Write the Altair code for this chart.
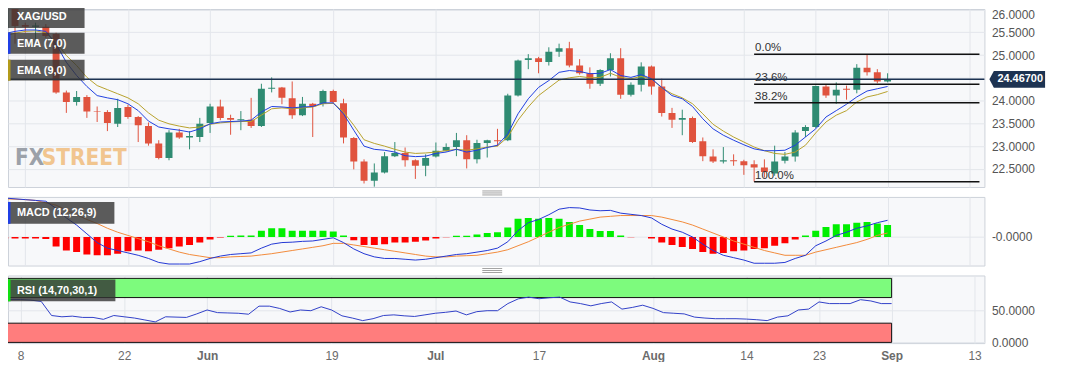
import altair as alt
import pandas as pd

# ---------------- data ----------------
# trading-day index: 0 = 8 May, 84 = 1 Sep
day_index = list(range(-2, 85))

opens = [25.60, 26.08, 25.66, 25.62, 25.62, 25.46, 24.18, 23.97, 24.08, 23.76,
         23.75, 23.49, 23.86, 23.64, 23.44, 23.06, 22.74, 23.30, 23.19, 23.20,
         23.51, 23.87, 23.62, 23.57, 23.58, 23.44, 24.26, 24.29, 24.05, 23.68,
         23.93, 23.93, 24.21, 23.94, 23.18, 22.66, 22.24, 22.42, 22.78, 22.85,
         22.69, 22.57, 22.77, 22.90, 22.98, 23.13, 22.71, 23.07, 23.13, 23.13,
         24.11, 24.89, 24.93, 24.85, 25.07, 25.15, 24.77, 24.60, 24.37, 24.67,
         24.93, 24.13, 24.35, 24.75, 24.31, 23.73, 23.58, 23.62, 23.11, 22.77,
         22.66, 22.69, 22.67, 22.60, 22.53, 22.40, 22.68, 22.77, 23.33, 23.42,
         24.31, 24.11, 24.26, 24.24, 24.72, 24.62, 24.42]
highs = [26.10, 26.15, 25.71, 25.71, 25.68, 25.49, 24.22, 24.21, 24.12, 23.87,
         23.79, 24.04, 23.91, 23.66, 23.52, 23.13, 23.35, 23.38, 23.33, 23.62,
         23.93, 24.02, 23.69, 23.77, 24.06, 24.37, 24.51, 24.30, 24.42, 24.08,
         23.95, 24.24, 24.24, 24.04, 23.20, 22.71, 22.62, 22.87, 23.09, 22.97,
         22.71, 22.82, 23.08, 23.06, 23.29, 23.24, 23.14, 23.14, 23.38, 24.15,
         24.90, 25.02, 24.96, 25.17, 25.25, 25.29, 24.91, 24.73, 24.69, 25.04,
         25.15, 24.40, 24.84, 24.77, 24.48, 23.84, 23.80, 23.65, 23.19, 22.93,
         22.98, 22.82, 22.70, 22.69, 22.71, 23.01, 22.87, 23.35, 23.46, 24.33,
         24.35, 24.40, 24.33, 24.80, 25.02, 24.69, 24.60]
lows = [25.55, 25.25, 25.49, 25.35, 25.38, 24.15, 23.73, 23.89, 23.62, 23.53,
        23.33, 23.42, 23.60, 23.09, 23.01, 22.71, 22.69, 23.16, 22.93, 23.09,
        23.29, 23.57, 23.25, 23.35, 23.40, 23.42, 24.18, 23.92, 23.60, 23.66,
        23.20, 23.87, 23.93, 23.06, 22.49, 22.18, 22.11, 22.40, 22.76, 22.55,
        22.28, 22.34, 22.75, 22.88, 22.78, 22.51, 22.62, 22.75, 23.00, 23.11,
        24.09, 24.69, 24.60, 24.77, 24.96, 24.73, 24.57, 24.26, 24.32, 24.53,
        24.04, 24.09, 24.20, 24.13, 23.65, 23.40, 23.24, 23.07, 22.67, 22.63,
        22.62, 22.57, 22.37, 22.22, 22.31, 22.35, 22.62, 22.66, 23.20, 23.40,
        24.06, 23.93, 24.02, 24.16, 24.55, 24.38, 24.40]
closes = [26.04, 25.64, 25.62, 25.65, 25.42, 24.18, 23.97, 24.08, 23.76, 23.75,
          23.51, 23.84, 23.64, 23.46, 23.06, 22.74, 23.30, 23.19, 23.22, 23.49,
          23.87, 23.62, 23.58, 23.59, 23.44, 24.26, 24.28, 24.06, 23.68, 23.93,
          23.87, 24.21, 23.97, 23.19, 22.66, 22.24, 22.42, 22.78, 22.85, 22.69,
          22.57, 22.74, 22.90, 22.98, 23.13, 22.71, 23.07, 23.13, 23.11, 24.11,
          24.88, 24.93, 24.85, 25.07, 25.15, 24.77, 24.60, 24.37, 24.67, 24.93,
          24.13, 24.35, 24.75, 24.31, 23.73, 23.58, 23.62, 23.09, 22.78, 22.66,
          22.69, 22.67, 22.58, 22.53, 22.43, 22.66, 22.77, 23.30, 23.42, 24.32,
          24.11, 24.24, 24.24, 24.72, 24.62, 24.42, 24.467]

ema7 = [25.47, 25.52, 25.55, 25.55, 25.52, 25.24, 24.84, 24.55, 24.31, 24.11,
        24.06, 24.02, 23.93, 23.78, 23.55, 23.42, 23.38, 23.35, 23.31, 23.38,
        23.49, 23.53, 23.54, 23.55, 23.57, 23.75, 23.87, 23.86, 23.84, 23.86,
        23.87, 23.95, 23.95, 23.71, 23.35, 23.00, 22.93, 22.91, 22.87, 22.79,
        22.77, 22.78, 22.84, 22.87, 22.93, 22.87, 22.91, 22.97, 23.02, 23.27,
        23.71, 24.04, 24.29, 24.44, 24.62, 24.66, 24.64, 24.59, 24.60, 24.68,
        24.55, 24.51, 24.57, 24.48, 24.29, 24.11, 24.04, 23.87, 23.60, 23.38,
        23.24, 23.13, 23.03, 22.94, 22.90, 22.90, 22.91, 23.02, 23.20, 23.38,
        23.64, 23.78, 23.92, 24.08, 24.21, 24.26, 24.31]
ema9 = [25.42, 25.48, 25.52, 25.53, 25.49, 25.28, 24.99, 24.77, 24.51, 24.33,
        24.24, 24.15, 24.06, 23.93, 23.73, 23.57, 23.49, 23.44, 23.40, 23.42,
        23.48, 23.51, 23.53, 23.54, 23.54, 23.68, 23.82, 23.84, 23.82, 23.84,
        23.86, 23.93, 23.94, 23.75, 23.46, 23.14, 23.06, 23.00, 22.93, 22.87,
        22.84, 22.85, 22.87, 22.90, 22.93, 22.91, 22.94, 22.98, 23.00, 23.20,
        23.57, 23.86, 24.11, 24.28, 24.45, 24.50, 24.53, 24.50, 24.51, 24.60,
        24.51, 24.48, 24.53, 24.48, 24.28, 24.15, 24.06, 23.93, 23.71, 23.48,
        23.33, 23.20, 23.09, 22.98, 22.90, 22.84, 22.82, 22.87, 23.02, 23.29,
        23.53, 23.68, 23.78, 23.97, 24.08, 24.13, 24.20]

macd_line = [0.49, 0.48, 0.47, 0.46, 0.45, 0.36, 0.24, 0.15, 0.04, -0.07,
             -0.14, -0.17, -0.20, -0.23, -0.27, -0.32, -0.34, -0.34, -0.34, -0.31,
             -0.27, -0.24, -0.22, -0.21, -0.20, -0.14, -0.09, -0.07, -0.065, -0.055,
             -0.05, -0.03, -0.01, -0.07, -0.15, -0.21, -0.25, -0.27, -0.27, -0.28,
             -0.29, -0.28, -0.26, -0.24, -0.22, -0.21, -0.19, -0.17, -0.14, -0.06,
             0.08, 0.18, 0.22, 0.28, 0.35, 0.37, 0.365, 0.34, 0.33, 0.335,
             0.30, 0.285, 0.27, 0.24, 0.16, 0.10, 0.06, 0.0, -0.09, -0.17,
             -0.23, -0.26, -0.29, -0.33, -0.33, -0.33, -0.32, -0.27, -0.23, -0.11,
             -0.05, 0.02, 0.06, 0.11, 0.14, 0.18, 0.21]
macd_signal = [0.48, 0.475, 0.47, 0.46, 0.43, 0.40, 0.34, 0.28, 0.22, 0.17,
               0.11, 0.06, 0.02, -0.02, -0.06, -0.11, -0.15, -0.19, -0.22, -0.24,
               -0.26, -0.26, -0.25, -0.245, -0.24, -0.225, -0.21, -0.19, -0.17, -0.15,
               -0.13, -0.11, -0.08, -0.08, -0.10, -0.12, -0.14, -0.16, -0.18, -0.20,
               -0.22, -0.24, -0.25, -0.25, -0.24, -0.235, -0.23, -0.21, -0.19, -0.16,
               -0.11, -0.06, 0.0, 0.06, 0.12, 0.16, 0.20, 0.225, 0.25, 0.26,
               0.27, 0.27, 0.27, 0.27, 0.25, 0.22, 0.19, 0.15, 0.10, 0.05,
               0.0, -0.05, -0.09, -0.13, -0.17, -0.20, -0.23, -0.23, -0.23, -0.19,
               -0.16, -0.13, -0.10, -0.07, -0.03, 0.02, 0.05]
macd_hist = [-0.02, -0.02, -0.02, -0.02, -0.025, -0.12, -0.17, -0.19, -0.22, -0.23,
             -0.23, -0.21, -0.18, -0.17, -0.18, -0.16, -0.14, -0.12, -0.10, -0.07,
             -0.03, -0.005, 0.015, 0.02, 0.02, 0.08, 0.11, 0.11, 0.08, 0.08,
             0.08, 0.08, 0.07, 0.02, -0.04, -0.10, -0.10, -0.09, -0.07, -0.07,
             -0.06, -0.045, -0.02, -0.003, 0.015, 0.015, 0.03, 0.05, 0.06, 0.12,
             0.23, 0.24, 0.23, 0.24, 0.23, 0.19, 0.15, 0.10, 0.075, 0.075,
             0.02, -0.003, 0.0, -0.02, -0.07, -0.10, -0.125, -0.15, -0.19, -0.21,
             -0.20, -0.18, -0.17, -0.15, -0.14, -0.11, -0.08, -0.03, 0.02, 0.08,
             0.125, 0.16, 0.16, 0.18, 0.19, 0.17, 0.15]

rsi = [76, 67, 67, 66, 64, 42, 40, 41, 39, 39,
       36, 42, 40, 38, 35, 32, 40, 39.5, 39, 44.5,
       50.6, 46.5, 46, 45.5, 44, 56.6, 56.6, 53, 47.5, 50.6,
       49.5, 55.6, 50.6, 41.5, 38, 34, 37, 42, 43, 41.5,
       40.5, 43, 45.5, 47, 49, 43, 48, 49.5, 49.5, 60.6,
       68, 70.7, 68.2, 69.7, 70.7, 63.2, 60.6, 57.1, 60.6, 63.2,
       52, 54.6, 58.1, 53.1, 46.5, 45.5, 44.5, 39.5, 38, 37,
       37, 37, 36.4, 35.4, 34, 39.5, 41.5, 50.6, 52, 63.2,
       60.6, 60.6, 60.6, 66.7, 64.7, 60.6, 60.6]

tick_index = [0, 10, 18, 30, 40, 50, 61, 70, 77, 84, 92]
tick_labels = ["8", "22", "Jun", "19", "Jul", "17", "Aug", "14", "23", "Sep", "13"]
month_labels = ["Jun", "Jul", "Aug", "Sep"]

price_ticks = [22.5, 23.0, 23.5, 24.0, 24.5, 25.0, 25.5, 26.0]
fib_levels = [25.02, 24.36, 23.95, 22.22]
fib_labels = ["0.0%", "23.6%", "38.2%", "100.0%"]
fib_start = 71
last_price = 24.467
last_price_label = "24.46700"
rsi_bands_lo = [70, 0]
rsi_bands_hi = [100, 30]
rsi_band_kind = ["overbought", "oversold"]

# ---------------- layout / style ----------------
W = 982
H_MAIN, H_MACD, H_RSI = 179, 69, 68
X_MIN, X_MAX = -1.2, 92.95
UP, DOWN, FLAT = "#2f8b72", "#e0533e", "#222222"
NAVY = "#1d3352"
GRID = "#e3e6eb"
LABEL_FONT = "Liberation Sans, Arial, sans-serif"

candles = pd.DataFrame({"i": day_index, "open": opens, "high": highs,
                        "low": lows, "close": closes, "ema7": ema7, "ema9": ema9})
candles["dir"] = ["up" if c > o else ("down" if c < o else "flat")
                  for o, c in zip(opens, closes)]
ind = pd.DataFrame({"i": day_index, "macd": macd_line, "signal": macd_signal,
                    "hist": macd_hist, "rsi": rsi})
fib = pd.DataFrame({"level": fib_levels, "label": fib_labels,
                    "start": [fib_start] * len(fib_levels), "end": [X_MAX] * len(fib_levels)})
price_df = pd.DataFrame({"price": [last_price], "label": [last_price_label]})
bands = pd.DataFrame({"lo": rsi_bands_lo, "hi": rsi_bands_hi, "kind": rsi_band_kind,
                      "x0": [day_index[0]] * 2, "x1": [day_index[-1]] * 2})

labels_js = "[" + ",".join("'%s'" % t for t in tick_labels) + "]"
vals_js = "[" + ",".join(str(v) for v in tick_index) + "]"
label_expr = "%s[indexof(%s, datum.value)]" % (labels_js, vals_js)
month_vals = [v for v, t in zip(tick_index, tick_labels) if t in month_labels]
month_test = "indexof([%s], datum.value) >= 0" % ",".join(str(v) for v in month_vals)

xscale = alt.Scale(domain=[X_MIN, X_MAX], nice=False, zero=False)
x_grid_axis = alt.Axis(values=tick_index, labels=False, ticks=False, domain=False,
                       grid=True, title=None)
x_bottom_axis = alt.Axis(values=tick_index, labelExpr=label_expr, ticks=False, domain=False,
                         grid=True, title=None, labelPadding=7, labelFontSize=12,
                         labelColor="#6b6b6b", labelFont=LABEL_FONT,
                         labelFontWeight={"condition": {"test": month_test, "value": "bold"},
                                          "value": "normal"})


def X(field="i:Q", axis=x_grid_axis):
    return alt.X(field, scale=xscale, axis=axis)


main_scale = alt.Scale(domain=[22.103, 26.011], nice=False, zero=False)
main_axis = alt.Axis(orient="right", values=price_ticks, format=".4f", ticks=False,
                     domain=False, grid=True, title=None, labelPadding=7, labelFlush=True,
                     labelFontSize=12, labelColor="#555555", labelFont=LABEL_FONT)


def YM(field):
    return alt.Y(field, scale=main_scale, axis=main_axis)


dir_color = alt.Color("dir:N", scale=alt.Scale(domain=["up", "down", "flat"],
                                               range=[UP, DOWN, FLAT]), legend=None)

cbase = alt.Chart(candles)
wicks = cbase.mark_rule(strokeWidth=1, clip=True).encode(
    x=X(), y=YM("low:Q"), y2="high:Q", color=dir_color)
bodies = cbase.mark_bar(size=7, clip=True).encode(
    x=X(), y=YM("open:Q"), y2="close:Q", color=dir_color)
ema9_line = cbase.mark_line(color="#b7a12c", strokeWidth=1, clip=True).encode(
    x=X(), y=YM("ema9:Q"))
ema7_line = cbase.mark_line(color="#2040e0", strokeWidth=1, clip=True).encode(
    x=X(), y=YM("ema7:Q"))

fib_rules = alt.Chart(fib).mark_rule(color="#111111", strokeWidth=1.5, clip=True).encode(
    x=X("start:Q"), x2="end:Q", y=YM("level:Q"))
fib_text = alt.Chart(fib).mark_text(align="left", baseline="bottom", dx=1, dy=-1,
                                    fontSize=11.5, color="#333333", font=LABEL_FONT).encode(
    x=X("start:Q"), y=YM("level:Q"), text="label:N")

price_rule = alt.Chart(price_df).mark_rule(color=NAVY, strokeWidth=1.5).encode(
    x=alt.value(0), x2=alt.value(W), y=YM("price:Q"))
price_box = alt.Chart(price_df).mark_point(
    shape="M-1,0 L-0.84,-0.3 L1,-0.3 L1,0.3 L-0.84,0.3 Z",
    filled=True, fill=NAVY, opacity=1, size=3136, strokeWidth=0).encode(
    x=alt.value(1015), y=YM("price:Q"))
price_text = alt.Chart(price_df).mark_text(color="white", fontWeight="bold", fontSize=11,
                                           font=LABEL_FONT).encode(
    x=alt.value(1018), y=YM("price:Q"), text="label:N")


def legend_box(text, top, width, accent=None, height=22):
    d = pd.DataFrame({"t": [text]})
    c = alt.Chart(d)
    layers = [c.mark_rect(fill="#333333", opacity=0.8).encode(
        x=alt.value(0), x2=alt.value(width), y=alt.value(top), y2=alt.value(top + height))]
    if accent:
        layers.append(c.mark_rect(fill=accent).encode(
            x=alt.value(0), x2=alt.value(2.5), y=alt.value(top), y2=alt.value(top + height)))
    layers.append(c.mark_text(align="left", baseline="middle", color="white", fontSize=11,
                              fontWeight="bold", font=LABEL_FONT).encode(
        x=alt.value(9), y=alt.value(top + height / 2 + 0.5), text="t:N"))
    return layers


WM_FONT = "Liberation Sans Narrow, DejaVu Sans Condensed, sans-serif"
wm = pd.DataFrame({"a": ["FX"], "b": ["STREET"]})
wm_fx = alt.Chart(wm).mark_text(align="left", baseline="alphabetic", fontSize=22.5,
                                fontWeight="bold", color="#9ca1a9", font=WM_FONT).encode(
    x=alt.value(7), y=alt.value(157), text="a:N")
wm_st = alt.Chart(wm).mark_text(align="left", baseline="alphabetic", fontSize=22.5,
                                fontWeight="bold", color="#f1c58f", font=WM_FONT).encode(
    x=alt.value(34), y=alt.value(157), text="b:N")

grip_df = pd.DataFrame({"g": [1]})


def grip(offsets):
    return [alt.Chart(grip_df).mark_rule(color="#8a8a8a", strokeWidth=0.8).encode(
        x=alt.value(477), x2=alt.value(497), y=alt.value(o)) for o in offsets]


main = alt.layer(
    wm_fx, wm_st, wicks, bodies, ema9_line, ema7_line, fib_rules, fib_text,
    price_rule, price_box, price_text,
    *legend_box("XAG/USD", -3, 77),
    *legend_box("EMA (7,0)", 24, 77, "#1f3fe6", 21),
    *legend_box("EMA (9,0)", 51, 77, "#b39b1a", 21),
).properties(width=W, height=H_MAIN)

# ---------------- MACD ----------------
macd_scale = alt.Scale(domain=[-0.359, 0.504], nice=False, zero=False)
macd_axis = alt.Axis(orient="right", values=[0], labelExpr="'-0.0000'", ticks=False,
                     domain=False, grid=True, title=None, labelPadding=7, labelFontSize=12,
                     labelColor="#555555", labelFont=LABEL_FONT)


def YD(field):
    return alt.Y(field, scale=macd_scale, axis=macd_axis)


ibase = alt.Chart(ind)
hist = ibase.mark_bar(size=7, clip=True).encode(
    x=X(), y=YD("hist:Q"), y2=alt.datum(0),
    color=alt.condition("datum.hist >= 0", alt.value("#00ef00"), alt.value("#ff0000")))
sig_line = ibase.mark_line(color="#f28a3a", strokeWidth=1, clip=True).encode(x=X(), y=YD("signal:Q"))
macd_l = ibase.mark_line(color="#2236d4", strokeWidth=1, clip=True).encode(x=X(), y=YD("macd:Q"))

macd = alt.layer(
    hist, sig_line, macd_l,
    *legend_box("MACD (12,26,9)", 5, 107, "#1f3fe6"),
    *grip([-6, -4, -2]),
).properties(width=W, height=H_MACD)

# ---------------- RSI ----------------
rsi_scale = alt.Scale(domain=[-1.1, 104.5], nice=False, zero=False)
rsi_axis = alt.Axis(orient="right", values=[0, 50], format=".4f", ticks=False, domain=False,
                    grid=True, title=None, labelPadding=7, labelFontSize=12,
                    labelColor="#555555", labelFont=LABEL_FONT)

band_rects = alt.Chart(bands).mark_rect(stroke="#111111", strokeWidth=1, clip=True).encode(
    x=alt.X("x0:Q", scale=xscale, axis=x_bottom_axis), x2="x1:Q",
    y=alt.Y("lo:Q", scale=rsi_scale, axis=rsi_axis), y2="hi:Q",
    fill=alt.Fill("kind:N", scale=alt.Scale(domain=rsi_band_kind, range=["#7dfb7d", "#ff7d7d"]),
                  legend=None))
rsi_line = ibase.mark_line(color="#3040c8", strokeWidth=1, clip=True).encode(
    x=alt.X("i:Q", scale=xscale, axis=x_bottom_axis),
    y=alt.Y("rsi:Q", scale=rsi_scale, axis=rsi_axis))

rsi_panel = alt.layer(
    band_rects, rsi_line,
    *legend_box("RSI (14,70,30,1)", 4, 108, "#12e012"),
    *grip([-7, -5, -3]),
).properties(width=W, height=H_RSI)

chart = alt.vconcat(main, macd, rsi_panel, spacing=10, bounds="flush").properties(
    autosize=alt.AutoSizeParams(type="none"),
    padding={"left": 0, "top": 0, "right": 75, "bottom": 354},
    background="white",
).configure_view(
    stroke="#cdd2da", strokeWidth=1, fill="#f7f8fa"
).configure_axis(
    gridColor=GRID, gridWidth=1
)

chart.save("out.html", embed_options={"renderer": "svg", "actions": False})
